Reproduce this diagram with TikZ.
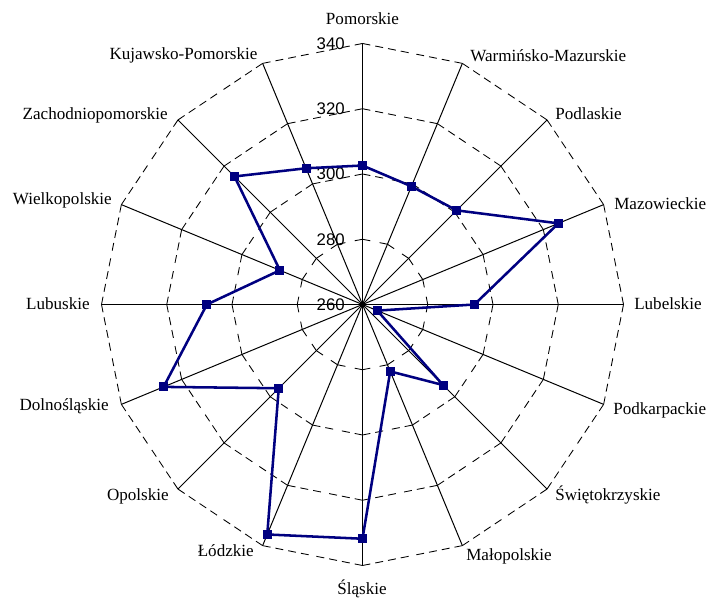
\documentclass[tikz,border=0pt]{standalone}
\usepackage{fontspec}
\usetikzlibrary{calc}
\setmainfont{Liberation Serif}
\newfontfamily\numfont{Liberation Sans}
\definecolor{navy}{RGB}{0,0,128}
\begin{document}
\begin{tikzpicture}[x=0.75pt,y=0.75pt,
  axisline/.style={black, line width=0.75pt},
  ringline/.style={black, line width=0.65pt, dash pattern=on 6pt off 3.75pt},
  series/.style={draw=navy, line width=1.9pt, line join=round},
  marker/.style={rectangle, fill=navy, draw=none, minimum size=6.75pt, inner sep=0pt},
  axislabel/.style={font=\fontsize{12.8}{14}\selectfont, inner sep=0pt},
  numlabel/.style={font=\numfont\fontsize{12.6}{14}\selectfont, inner sep=0pt, anchor=east}]
\useasboundingbox (-362.5,-293.5) rectangle (346.5,304.5);
\coordinate (O) at (0,0);
% axes
\foreach \i in {0,...,15}{
  \pgfmathsetmacro\a{90-22.5*\i}
  \coordinate (E\i) at (\a:261);
  \draw[axisline] (O) -- (E\i);
}
% rings
\foreach \k/\r in {1/65.25,2/130.5,3/195.75,4/261}{
  \foreach \i in {0,...,15}{
    \pgfmathsetmacro\a{90-22.5*\i}
    \coordinate (R\k-\i) at (\a:\r);
  }
  \foreach \i in {0,...,15}{
    \pgfmathtruncatemacro\j{mod(\i+1,16)}
    \coordinate (H\k-\i) at ($(R\k-\i)!0.5!(R\k-\j)$);
    \draw[ringline] (R\k-\i) -- (H\k-\i);
    \draw[ringline] (R\k-\j) -- (H\k-\i);
  }
}
% scale labels
\node[numlabel] (n260) at (-17.5,0) {260};
\node[numlabel] (n280) at (-17.5,65.25) {280};
\node[numlabel] (n300) at (-17.5,130.5) {300};
\node[numlabel] (n320) at (-17.5,195.75) {320};
\node[numlabel] (n340) at (-17.5,261) {340};
% data
\foreach \i/\v in {0/302.6,1/299.2,2/300.8,3/325,4/294.3,5/264.9,6/294.9,7/282.2,8/331.8,9/336.3,10/296.3,11/326,12/307.7,13/287.4,14/315.5,15/305.2}{
  \coordinate (P\i) at ({90-22.5*\i}:{(\v-260)*3.2625});
}
\draw[series] (P0) -- (P1) -- (P2) -- (P3) -- (P4) -- (P5) -- (P6) -- (P7) -- (P8) -- (P9) -- (P10) -- (P11) -- (P12) -- (P13) -- (P14) -- (P15) -- cycle;
\foreach \i in {0,...,15}{ \node[marker] (M\i) at (P\i) {}; }
% axis labels
\node[axislabel, anchor=base] (L0) at (0,279.5) {Pomorskie};
\node[axislabel, anchor=base west] (L1) at (107.5,242.8) {Warmińsko-Mazurskie};
\node[axislabel, anchor=base west] (L2) at (192.5,184.5) {Podlaskie};
\node[axislabel, anchor=base west] (L3) at (251.5,95.2) {Mazowieckie};
\node[axislabel, anchor=base west] (L4) at (271.5,-5.5) {Lubelskie};
\node[axislabel, anchor=base west] (L5) at (250.5,-109.8) {Podkarpackie};
\node[axislabel, anchor=base west] (L6) at (192.5,-195.5) {Świętokrzyskie};
\node[axislabel, anchor=base west] (L7) at (103.5,-255.5) {Małopolskie};
\node[axislabel, anchor=base] (L8) at (-0.5,-289.5) {Śląskie};
\node[axislabel, anchor=base east] (L9) at (-108.5,-252.2) {Łódzkie};
\node[axislabel, anchor=base east] (L10) at (-193.5,-195.5) {Opolskie};
\node[axislabel, anchor=base east] (L11) at (-253.5,-106.5) {Dolnośląskie};
\node[axislabel, anchor=base east] (L12) at (-272.5,-5.5) {Lubuskie};
\node[axislabel, anchor=base east] (L13) at (-250.5,99.5) {Wielkopolskie};
\node[axislabel, anchor=base east] (L14) at (-194.5,184.5) {Zachodniopomorskie};
\node[axislabel, anchor=base east] (L15) at (-104.8,244.5) {Kujawsko-Pomorskie};
\end{tikzpicture}
\end{document}
